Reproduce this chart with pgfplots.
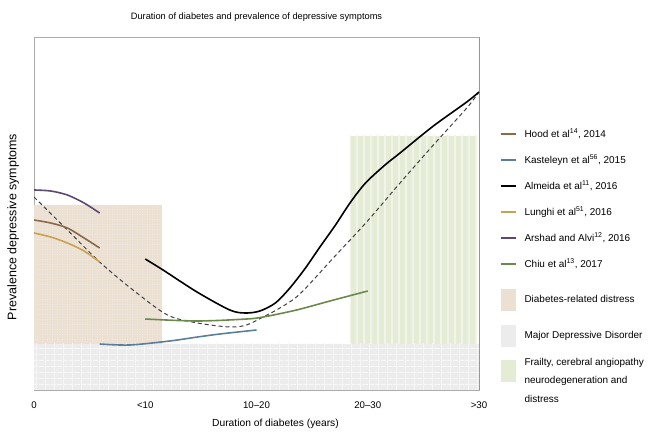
\documentclass[border=0pt]{standalone}
\usepackage{pgfplots}
\pgfplotsset{compat=1.18}
\usepackage{fontspec}
\setmainfont{Liberation Sans}
\usetikzlibrary{patterns.meta}
\definecolor{cHood}{HTML}{8A6A48}
\definecolor{cKast}{HTML}{5A7E9E}
\definecolor{cLung}{HTML}{C9A24E}
\definecolor{cArsh}{HTML}{5C4870}
\definecolor{cChiu}{HTML}{6A8A4C}
\definecolor{cBeige}{HTML}{ECE0D3}
\definecolor{cGrey}{HTML}{ECECEC}
\definecolor{cGreen}{HTML}{E4ECD6}
\definecolor{cGreenL}{HTML}{F1F5E9}
\pgfplotsset{
  linelegend/.style={legend image code/.code={\draw[##1] (0bp,0bp) -- (15bp,0bp); \path[draw=none,fill=none] (0bp,-13bp) rectangle (15bp,13bp);}},
  boxA/.style={legend image code/.code={\fill[##1, draw=none] (0bp,-11bp) rectangle (15bp,11bp); \path[draw=none,fill=none] (0bp,-21bp) rectangle (15bp,23bp);}},
  boxB/.style={legend image code/.code={\fill[##1, draw=none] (0bp,-11bp) rectangle (15bp,11bp); \path[draw=none,fill=none] (0bp,-15bp) rectangle (15bp,15bp);}},
  boxC/.style={legend image code/.code={\fill[##1, draw=none] (0bp,-11bp) rectangle (15bp,11bp); \path[draw=none,fill=none] (0bp,-20bp) rectangle (15bp,20bp);}},
}
\begin{document}
\begin{tikzpicture}
\useasboundingbox (0,0) rectangle (649bp,432bp);
\begin{axis}[
  scale only axis, width=445bp, height=353bp,
  at={(34bp,42bp)}, anchor=south west,
  xmin=0, xmax=4, ymin=0, ymax=353,
  xtick={0,1,2,3,4},
  xticklabels={0,\textless10,10--20,20--30,\textgreater30},
  ytick=\empty,
  xtick pos=lower, tick align=inside,
  major tick length=3bp,
  tick style={gray!70, line width=0.6bp},
  axis line style={gray!65, line width=0.8bp},
  xticklabel style={font=\fontsize{9.7}{11}\selectfont, anchor=base, yshift=-18bp},
  title={Duration of diabetes and prevalence of depressive symptoms},
  title style={font=\fontsize{9.3}{11}\selectfont, at={(0.5,1)}, anchor=base, yshift=12bp},
  xlabel={Duration of diabetes (years)},
  xlabel style={font=\fontsize{10.3}{12}\selectfont, at={(axis description cs:0.5,0)}, anchor=base, yshift=-36.5bp, xshift=19bp},
  ylabel={Prevalence depressive symptoms},
  ylabel style={font=\fontsize{12.5}{14}\selectfont, at={(axis description cs:-0.047,0.462)}, anchor=center},
  legend style={draw=none, fill=none, at={(axis description cs:1.047,0.762)}, anchor=north west,
    font=\fontsize{10}{12}\selectfont, inner sep=0pt, outer sep=0pt, column sep=8bp, row sep=0pt,
    nodes={inner sep=0pt}},
  legend cell align=left,
]
% shaded regions
\addplot[fill=cBeige, draw=none, forget plot,
  postaction={pattern={Dots[distance=2.5bp, radius=0.35bp]}, pattern color=white!60!cBeige}]
  coordinates {(0,0) (0,185) (1.15,185) (1.15,0)} -- cycle;
\addplot[fill=cGreen, draw=none, forget plot,
  postaction={pattern={Lines[angle=90, distance=7bp, line width=2.5bp]}, pattern color=cGreenL}]
  coordinates {(2.84,0) (2.84,254) (3.98,254) (3.98,0)} -- cycle;
\addplot[fill=cGrey, draw=none, forget plot,
  postaction={pattern={Lines[angle=0, distance=6bp, line width=1.4bp]}, pattern color=white!60!cGrey}]
  coordinates {(0,0) (0,46) (4,46) (4,0)} -- cycle;
\addplot[draw=none, forget plot,
  postaction={pattern={Lines[angle=90, distance=9bp, line width=1bp]}, pattern color=white!50!cGrey}]
  coordinates {(0,0) (0,46) (4,46) (4,0)} -- cycle;
% dashed overall trend
\addplot[black!75, dashed, dash pattern=on 4bp off 3bp, line width=1bp, smooth, forget plot] coordinates {
(0,193) (0.30,160) (0.59,128) (0.89,100) (1.20,75) (1.47,67) (1.76,63) (1.91,65) (2.06,73) (2.21,82) (2.39,96) (2.69,132) (2.99,168) (3.29,207) (3.59,245) (3.89,282) (4,298)};
% Hood
\addplot[cHood, line width=1.6bp, smooth, forget plot] coordinates {(0,170) (0.15,167) (0.30,162) (0.45,152) (0.59,142)};
% Kasteleyn
\addplot[cKast, line width=1.6bp, smooth, forget plot] coordinates {(0.59,46) (0.86,45) (1.22,49) (1.47,53) (1.67,56) (2.0,60)};
% Almeida
\addplot[black, line width=1.6bp, smooth, forget plot] coordinates {
(1.0,131) (1.16,120) (1.465,98) (1.76,80) (1.90,77) (2.03,79) (2.17,87) (2.30,102) (2.44,122) (2.57,143) (2.71,165) (2.84,187) (2.98,207) (3.155,225) (3.29,237) (3.59,264) (3.89,288) (4,298)};
% Lunghi
\addplot[cLung, line width=1.6bp, smooth, forget plot] coordinates {(0,157) (0.15,153) (0.30,147) (0.45,139) (0.59,128)};
% Arshad
\addplot[cArsh, line width=1.6bp, smooth, forget plot] coordinates {(0,200) (0.15,199) (0.30,195) (0.45,187) (0.59,177)};
% Chiu
\addplot[cChiu, line width=1.6bp, smooth, forget plot] coordinates {(1.0,71) (1.47,69) (1.91,71) (2.06,73) (2.36,80) (2.66,89) (3.0,99)};
% right frame edge in black
\draw[black, line width=0.9bp] (rel axis cs:1,0) -- (rel axis cs:1,1);
% legend
\addlegendimage{linelegend, cHood, line width=1.6bp}
\addlegendentry{Hood et al\textsuperscript{14}, 2014}
\addlegendimage{linelegend, cKast, line width=1.6bp}
\addlegendentry{Kasteleyn et al\textsuperscript{56}, 2015}
\addlegendimage{linelegend, black, line width=1.6bp}
\addlegendentry{Almeida et al\textsuperscript{11}, 2016}
\addlegendimage{linelegend, cLung, line width=1.6bp}
\addlegendentry{Lunghi et al\textsuperscript{51}, 2016}
\addlegendimage{linelegend, cArsh, line width=1.6bp}
\addlegendentry{Arshad and Alvi\textsuperscript{12}, 2016}
\addlegendimage{linelegend, cChiu, line width=1.6bp}
\addlegendentry{Chiu et al\textsuperscript{13}, 2017}
\addlegendimage{boxA, fill=cBeige}
\addlegendentry{Diabetes-related distress}
\addlegendimage{boxB, fill=cGrey}
\addlegendentry{Major Depressive Disorder}
\addlegendimage{boxC, fill=cGreen}
\addlegendentry{\parbox[c]{125bp}{\fontsize{10}{18.5}\selectfont Frailty, cerebral angiopathy\\neurodegeneration and\\distress}}
\end{axis}
\end{tikzpicture}
\end{document}
